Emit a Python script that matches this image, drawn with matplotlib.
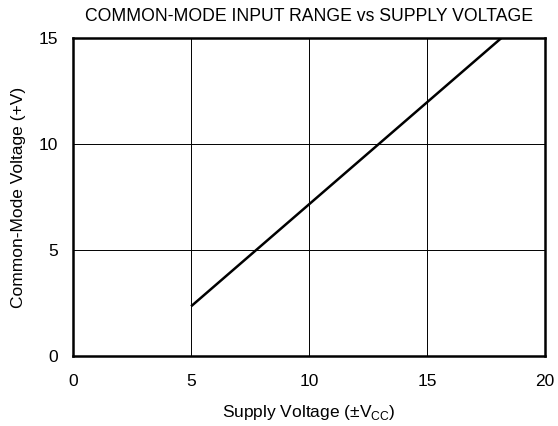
import matplotlib
matplotlib.use("Agg")
import matplotlib.pyplot as plt

plt.rcParams['font.family'] = ['Liberation Sans', 'DejaVu Sans']
plt.rcParams['mathtext.fontset'] = 'custom'
plt.rcParams['mathtext.rm'] = 'Liberation Sans'

# supply voltage (+/-Vcc) and common-mode range (+V)
supply_v = [5.0, 18.15]
cm_v = [2.35, 15.0]

x_ticks = [0, 5, 10, 15, 20]
y_ticks = [0, 5, 10, 15]

fig = plt.figure(figsize=(5.58, 4.26), dpi=100)
ax = fig.add_axes([0.131, 0.164, 0.846, 0.747])

ax.plot(supply_v, cm_v, color='black', linewidth=1.8, solid_capstyle='butt')

ax.set_xlim(0, 20)
ax.set_ylim(0, 15)
ax.set_xticks(x_ticks)
ax.set_yticks(y_ticks)
ax.tick_params(length=0, labelsize=12.5)
ax.tick_params(axis='x', pad=13)
ax.tick_params(axis='y', pad=11)
ax.grid(True, color='black', linewidth=0.7)
ax.set_axisbelow(True)
for sp in ax.spines.values():
    sp.set_linewidth(1.8)

ax.set_title("COMMON-MODE INPUT RANGE vs SUPPLY VOLTAGE", fontsize=12.7, pad=12)
ax.set_xlabel(r"Supply Voltage ($\pm$V$_{\mathregular{CC}}$)", fontsize=12.5, labelpad=10)
ax.set_ylabel("Common-Mode Voltage (+V)", fontsize=12.5, labelpad=9)

fig.savefig("out.png", dpi=100)
